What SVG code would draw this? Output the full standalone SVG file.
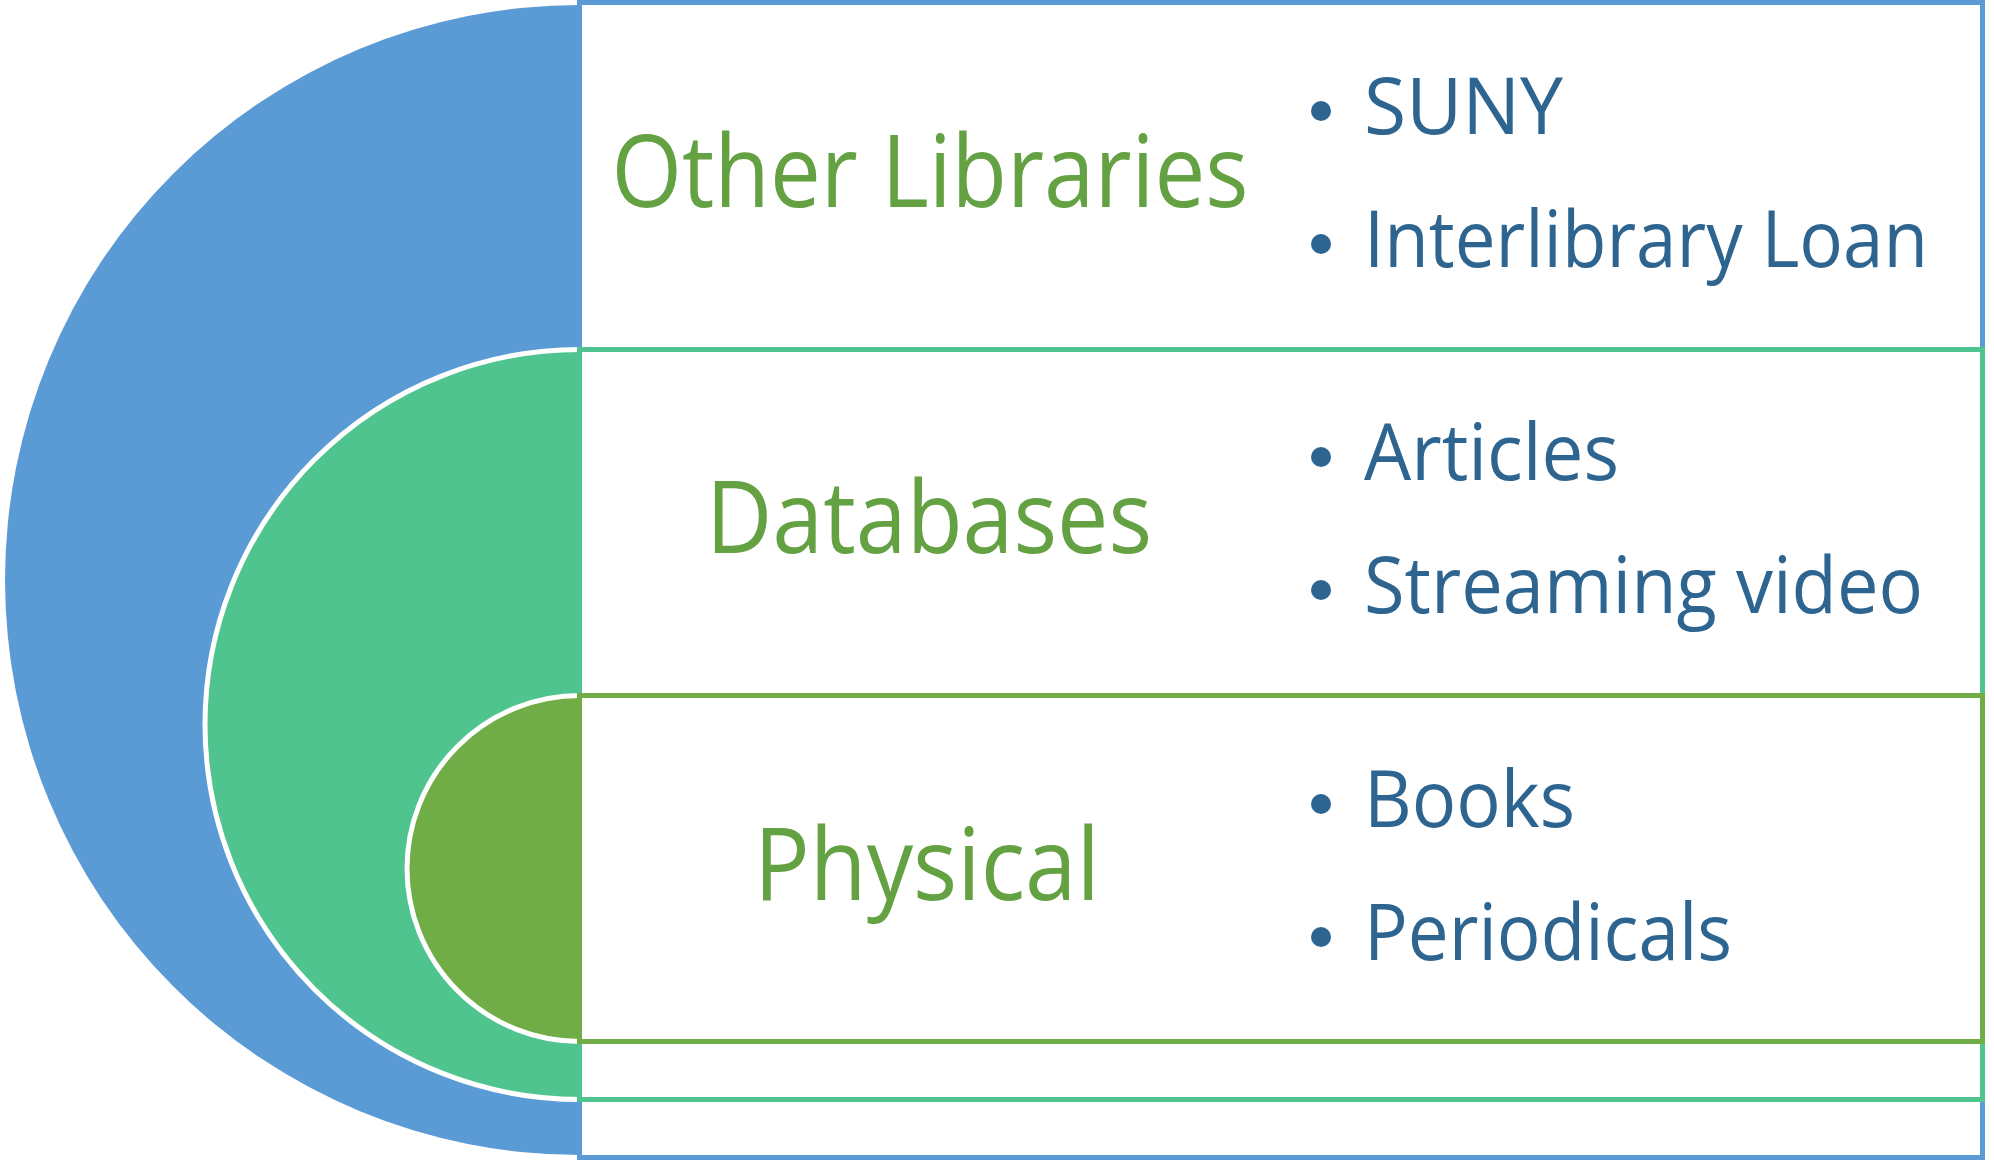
<svg xmlns="http://www.w3.org/2000/svg" width="1994" height="1160" viewBox="0 0 1994 1160">
  <style>
    .box { fill: #ffffff; stroke-width: 5; }
    .arc { stroke: #ffffff; stroke-width: 5; }
    .title { font-family: "Open Sans", "Noto Sans", "DejaVu Sans", sans-serif; font-size: 100px; fill: #64A143; text-anchor: middle; }
    .item { font-family: "Open Sans", "Noto Sans", "DejaVu Sans", sans-serif; font-size: 78px; fill: #2E6590; }
    .dot { fill: #2E6590; }
  </style>
  <rect x="0" y="0" width="1994" height="1160" fill="#ffffff"/>

  <g id="node-other-libraries">
    <path d="M580,5 A575,575 0 0 0 580,1155" fill="#5B9BD5"/>
    <rect class="box" x="579.5" y="2.5" width="1403" height="1155" stroke="#5B9BD5"/>
    <text class="title" x="930" y="207" textLength="637" lengthAdjust="spacingAndGlyphs">Other Libraries</text>
    <circle class="dot" cx="1321" cy="111" r="10"/>
    <text class="item" x="1364" y="134" textLength="199" lengthAdjust="spacingAndGlyphs">SUNY</text>
    <circle class="dot" cx="1321" cy="244" r="10"/>
    <text class="item" x="1364" y="267" textLength="564" lengthAdjust="spacingAndGlyphs">Interlibrary Loan</text>
  </g>

  <g id="node-databases">
    <path class="arc" d="M580,349.5 A375,375 0 0 0 580,1099.5" fill="#4FC48E"/>
    <rect class="box" x="579.5" y="349.5" width="1403" height="750" stroke="#4FC48E"/>
    <text class="title" x="929" y="553" textLength="446" lengthAdjust="spacingAndGlyphs">Databases</text>
    <circle class="dot" cx="1321" cy="457" r="10"/>
    <text class="item" x="1364" y="480" textLength="255" lengthAdjust="spacingAndGlyphs">Articles</text>
    <circle class="dot" cx="1321" cy="590" r="10"/>
    <text class="item" x="1364" y="613" textLength="559" lengthAdjust="spacingAndGlyphs">Streaming video</text>
  </g>

  <g id="node-physical">
    <path class="arc" d="M580,695.5 A173,173 0 0 0 580,1041.5" fill="#70AD47"/>
    <rect class="box" x="579.5" y="695.5" width="1403" height="346" stroke="#70AD47"/>
    <text class="title" x="927" y="900" textLength="346" lengthAdjust="spacingAndGlyphs">Physical</text>
    <circle class="dot" cx="1321" cy="804" r="10"/>
    <text class="item" x="1364" y="827" textLength="211" lengthAdjust="spacingAndGlyphs">Books</text>
    <circle class="dot" cx="1321" cy="937" r="10"/>
    <text class="item" x="1364" y="960" textLength="368" lengthAdjust="spacingAndGlyphs">Periodicals</text>
  </g>

  <g id="connectors"></g>
</svg>
